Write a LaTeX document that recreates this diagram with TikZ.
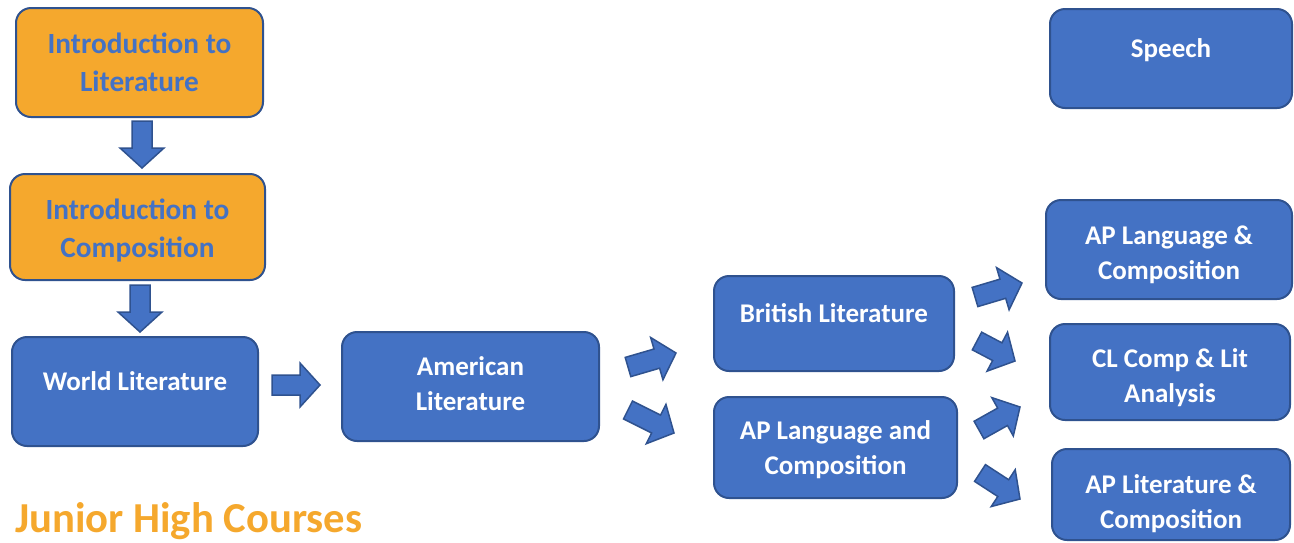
\documentclass[tikz,border=0pt]{standalone}
\usepackage{fontspec}
\setmainfont{Carlito}
\usepackage{xcolor}
\usepackage{tikz}
\usetikzlibrary{calc}

\definecolor{boxblue}{HTML}{4472C4}
\definecolor{edgeblue}{HTML}{2F528F}
\definecolor{gold}{HTML}{F5A82D}

% block arrow from #1 (tail) to #2 (tip)
\newcommand{\fatarrow}[2]{%
	\filldraw[fat] let \p1=($(#2)-(#1)$), \n1={atan2(\y1,\x1)}, \n2={veclen(\x1,\y1)} in
		[shift={(#1)}, rotate=\n1] (0,-10) -- ({\n2-20},-10) -- ({\n2-20},-22) -- (\n2,0)
		-- ({\n2-20},22) -- ({\n2-20},10) -- (0,10) -- cycle;}
% lowers the text of a two line box
\newcommand{\dropline}[1]{\rule{0pt}{#1pt}}

\begin{document}
\begin{tikzpicture}[x=1pt, y=1pt]
			\tikzstyle{every node}=[font=\fontsize{27}{35}\selectfont\bfseries, align=center, inner sep=0pt];
			\tikzstyle{goldbox}=[draw=edgeblue, fill=gold, text=boxblue, rounded corners=15pt, line width=2pt, font=\fontsize{29.3}{38.5}\selectfont\bfseries];
			\tikzstyle{bluebox}=[draw=edgeblue, fill=boxblue, text=white, rounded corners=15pt, line width=2pt];
			\tikzstyle{oneline}=[text height=18pt, text depth=20pt];
			\tikzstyle{fat}=[draw=edgeblue, fill=boxblue, line width=1.5pt, line join=miter];
			
			\useasboundingbox (0,0) rectangle (1294,-542);
			
			%Junior high
			\node[goldbox, minimum width=247, minimum height=109] (intlit) at (139.5,-62.5) {Introduction to\\Literature};
			\node[goldbox, minimum width=255, minimum height=106] (intcomp) at (137.5,-227) {\dropline{28}Introduction to\\Composition};
			\node[text=gold, font=\fontsize{42.7}{50}\selectfont\bfseries, anchor=west] (junior) at (15,-521) {Junior High Courses};
			
			%Courses
			\node[bluebox, oneline, minimum width=246, minimum height=109] (world) at (135,-391.5) {World Literature};
			\node[bluebox, text depth=6pt, minimum width=257, minimum height=109] (american) at (470.5,-386.5) {American\\Literature};
			\node[bluebox, oneline, minimum width=240, minimum height=95] (british) at (834,-323.5) {British Literature};
			\node[bluebox, minimum width=243, minimum height=101] (aplang) at (835.5,-447.5) {\dropline{24}AP Language and\\Composition};
			
			%Right column
			\node[bluebox, oneline, minimum width=242, minimum height=99] (speech) at (1171,-58.5) {Speech};
			\node[bluebox, minimum width=246, minimum height=99] (aplangcomp) at (1169,-249.5) {\dropline{30}AP Language \&\\Composition};
			\node[bluebox, minimum width=240, minimum height=96] (clcomp) at (1170,-372) {\dropline{31}CL Comp \& Lit\\Analysis};
			\node[bluebox, minimum width=238, minimum height=91] (aplit) at (1171,-494.5) {\dropline{37}AP Literature \&\\Composition};
			
			%Arrow ends
			\coordinate (a1s) at (142,-121);  \coordinate (a1e) at (142,-168);
			\coordinate (a2s) at (140,-285);  \coordinate (a2e) at (140,-332);
			\coordinate (a3s) at (272,-385);  \coordinate (a3e) at (320,-385);
			\coordinate (a4s) at (628,-367);  \coordinate (a4e) at (676,-353);
			\coordinate (a5s) at (628,-410);  \coordinate (a5e) at (674,-433);
			\coordinate (a6s) at (975,-297);  \coordinate (a6e) at (1022,-283);
			\coordinate (a7s) at (977,-341);  \coordinate (a7e) at (1015,-361);
			\coordinate (a8s) at (979,-430);  \coordinate (a8e) at (1020,-407);
			\coordinate (a9s) at (980,-473);  \coordinate (a9e) at (1020,-499);
			
			%Arrows
			\fatarrow{a1s}{a1e}
			\fatarrow{a2s}{a2e}
			\fatarrow{a3s}{a3e}
			\fatarrow{a4s}{a4e}
			\fatarrow{a5s}{a5e}
			\fatarrow{a6s}{a6e}
			\fatarrow{a7s}{a7e}
			\fatarrow{a8s}{a8e}
			\fatarrow{a9s}{a9e}
\end{tikzpicture}
\end{document}
